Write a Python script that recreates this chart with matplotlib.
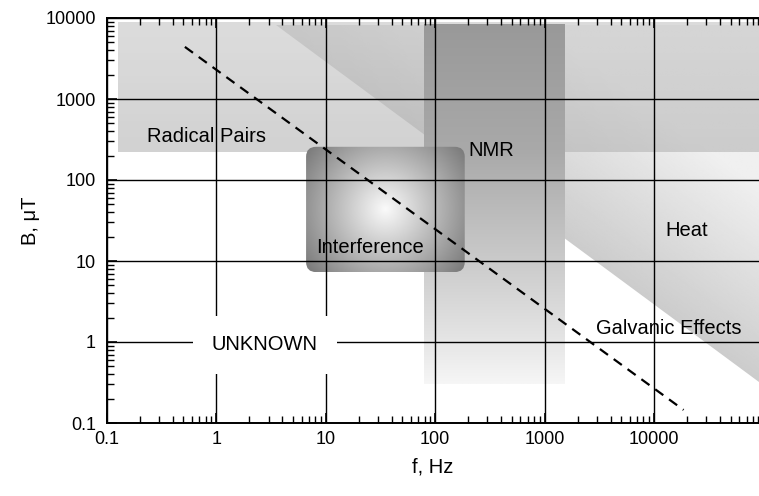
import numpy as np
import matplotlib
matplotlib.use("Agg")
import matplotlib.pyplot as plt
from matplotlib.patches import Polygon, FancyBboxPatch
from matplotlib.colors import LinearSegmentedColormap

plt.rcParams['font.family'] = ['Liberation Sans', 'DejaVu Sans']

# ---------------- data ----------------
x_limits = [0.1, 91000]
y_limits = [0.1, 10000]
x_ticks = [0.1, 1, 10, 100, 1000, 10000]
x_tick_labels = ['0.1', '1', '10', '100', '1000', '10000']
y_ticks = [0.1, 1, 10, 100, 1000, 10000]
y_tick_labels = ['0.1', '1', '10', '100', '1000', '10000']

radical_f = [0.126, 91000]
radical_B = [222, 8900]

heat_f = [3.5, 91000, 91000]
heat_B = [8200, 8200, 0.32]

nmr_f = [78.5, 1520]
nmr_B = [0.3, 8200]

interf_f = [6.6, 186]
interf_B = [7.3, 257]

dashed_f = [0.515, 18600]
dashed_B = [4400, 0.145]

label_names = ['Radical Pairs', 'NMR', 'Interference', 'Heat', 'Galvanic Effects']
label_f = [0.81, 326, 25.5, 19700, 13500]
label_B = [340, 234, 14.5, 24, 1.45]

unknown_text = 'UNKNOWN'
unknown_f = 2.77
unknown_B = 0.92

# ---------------- figure ----------------
fig = plt.figure(figsize=(7.59, 4.96), dpi=100)
ax = fig.add_axes([107 / 759, 1 - 423 / 496, 652 / 759, 405 / 496])
ax.set_xscale('log')
ax.set_yscale('log')
ax.set_xlim(*x_limits)
ax.set_ylim(*y_limits)
ax.set_autoscale_on(False)

W = ax.bbox.width
H = ax.bbox.height


def ax_frac(xs, ys):
    return (ax.transData + ax.transAxes.inverted()).transform(
        np.column_stack([np.atleast_1d(xs), np.atleast_1d(ys)]))


# Heat (opaque gradient, darker near the diagonal edge)
hp = ax_frac(heat_f, heat_B)
hx0, hx1 = hp[:, 0].min(), hp[:, 0].max()
hy0, hy1 = hp[:, 1].min(), hp[:, 1].max()
nx, ny = 400, 400
GX, GY = np.meshgrid(np.linspace(hx0, hx1, nx), np.linspace(hy0, hy1, ny))
p1 = np.array([hp[0, 0] * W, hp[0, 1] * H])
p2 = np.array([hp[2, 0] * W, hp[2, 1] * H])
dvec = (p2 - p1) / np.linalg.norm(p2 - p1)
dist = np.abs((GX * W - p1[0]) * dvec[1] - (GY * H - p1[1]) * dvec[0])
heat_gray = np.clip(204 + 34 * dist / 150.0, 204, 240) / 255.0
heat_poly = Polygon(np.column_stack([heat_f, heat_B]), closed=True,
                    transform=ax.transData, facecolor='none', edgecolor='none')
ax.add_patch(heat_poly)
im_heat = ax.imshow(heat_gray, cmap='gray', vmin=0, vmax=1,
                    extent=[hx0, hx1, hy0, hy1], origin='lower',
                    transform=ax.transAxes, aspect='auto',
                    interpolation='bilinear', zorder=1.0)
im_heat.set_clip_path(heat_poly)

# Radical pairs (translucent vertical gradient over heat)
(rx0, ry0), (rx1, ry1) = ax_frac(radical_f, radical_B)
rv = np.linspace(181, 198, 256) / 255.0
rad_rgba = np.zeros((256, 1, 4))
rad_rgba[:, 0, 0] = rv
rad_rgba[:, 0, 1] = rv
rad_rgba[:, 0, 2] = rv
rad_rgba[:, 0, 3] = 0.61
ax.imshow(rad_rgba, extent=[rx0, rx1, ry0, ry1], origin='lower',
          transform=ax.transAxes, aspect='auto',
          interpolation='bilinear', zorder=1.2)

# NMR (vertical gradient, opaque)
(nx0, ny0), (nx1, ny1) = ax_frac(nmr_f, nmr_B)
nmr_cmap = LinearSegmentedColormap.from_list(
    'nmr', [(0.0, '#f6f6f6'), (0.13, '#e4e4e4'), (0.38, '#c6c6c6'),
            (0.65, '#a9a9a9'), (1.0, '#999999')])
ax.imshow(np.linspace(0, 1, 256)[:, None], cmap=nmr_cmap, vmin=0, vmax=1,
          extent=[nx0, nx1, ny0, ny1], origin='lower', transform=ax.transAxes,
          aspect='auto', interpolation='bilinear', zorder=1.4)

# Interference (rounded box, radial gradient)
(ix0, iy0), (ix1, iy1) = ax_frac(interf_f, interf_B)
GX, GY = np.meshgrid(np.linspace(ix0, ix1, 300), np.linspace(iy0, iy1, 300))
cx, cy = (ix0 + ix1) / 2, (iy0 + iy1) / 2
d = np.hypot((GX - cx) * W, (GY - cy) * H)
gray = np.clip(250 - 1.3 * d, 125, 250) / 255.0
rsize = 10 / W
box = FancyBboxPatch((ix0, iy0), ix1 - ix0, iy1 - iy0,
                     boxstyle=f"round,pad=0,rounding_size={rsize}",
                     mutation_aspect=W / H, transform=ax.transAxes,
                     facecolor='none', edgecolor='none')
ax.add_patch(box)
im_int = ax.imshow(gray, cmap='gray', vmin=0, vmax=1,
                   extent=[ix0, ix1, iy0, iy1], origin='lower',
                   transform=ax.transAxes, aspect='auto',
                   interpolation='bilinear', zorder=1.6)
im_int.set_clip_path(box)

# Grid above shaded regions
ax.set_axisbelow(False)
ax.grid(True, which='major', color='black', linewidth=1.0)

# Dashed line
ax.plot(dashed_f, dashed_B, color='black', linewidth=1.6,
        linestyle=(0, (4.5, 3.2)), zorder=4)

# Labels
for name, f, b in zip(label_names, label_f, label_B):
    ax.text(f, b, name, fontsize=14.5, ha='center', va='center', zorder=3)
ax.text(unknown_f, unknown_B, unknown_text, fontsize=14.5, ha='center',
        va='center', zorder=3,
        bbox=dict(boxstyle='square,pad=0.95', facecolor='white',
                  edgecolor='none'))

# Axes styling
ax.set_xticks(x_ticks)
ax.set_xticklabels(x_tick_labels)
ax.set_yticks(y_ticks)
ax.set_yticklabels(y_tick_labels)
ax.tick_params(which='both', direction='in', top=True, right=False,
               bottom=True, left=True, labelsize=13, color='black')
ax.tick_params(which='major', length=7, width=1.2, pad=6)
ax.tick_params(which='minor', length=5, width=1.0)
ax.tick_params(axis='y', which='major', pad=8)
for s in ['left', 'bottom', 'top']:
    ax.spines[s].set_linewidth(1.4)
ax.spines['right'].set_visible(False)

ax.set_xlabel('f, Hz', fontsize=14.5)
ax.xaxis.set_label_coords(0.5, -(467 - 423) / 405)
ax.xaxis.label.set_verticalalignment('center')
ax.set_ylabel('B, μT', fontsize=14.5)
ax.yaxis.set_label_coords((30 - 107) / 652, 0.5)
ax.yaxis.label.set_verticalalignment('center')

fig.savefig('out.png', dpi=100)
